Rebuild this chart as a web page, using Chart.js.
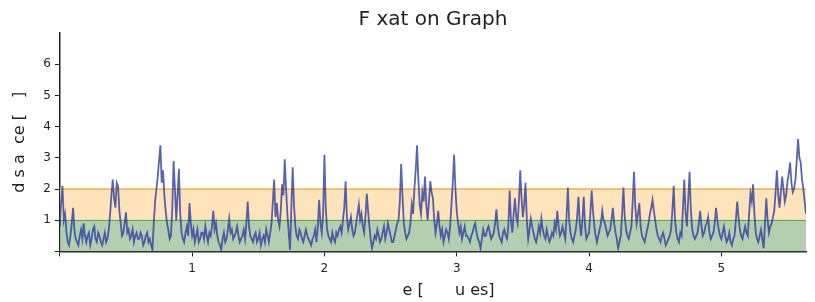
<!DOCTYPE html>
<html>
<head>
<meta charset="utf-8">
<script src="https://cdn.jsdelivr.net/npm/chart.js@4.4.1/dist/chart.umd.min.js"></script>
<style>
  html, body { margin: 0; padding: 0; background: #fff; }
  #wrap { width: 815px; height: 302px; }
</style>
</head>
<body>
<div id="wrap"><canvas id="fixChart"></canvas></div>
<script>
// sample interval of the series (x axis units)
const sampleStep = 0.01;
const xMax = 5.64;

// distance values, one per sample
const distance = [
  0.8,1.6, 2.1,1.0, 1.2,0.6, 0.3,0.2, 0.5,0.9, 1.4,0.7, 0.4,0.3, 0.2,0.5, 0.7,0.4, 0.9,0.5,
  0.3,0.5, 0.6,0.2, 0.4,0.7, 0.8,0.4, 0.3,0.6, 0.5,0.3, 0.2,0.4, 0.6,0.3, 0.4,0.7, 1.2,1.8,
  2.3,1.7, 1.4,2.2, 2.1,1.3, 0.9,0.5, 0.6,0.9, 1.25,0.6, 0.7,0.4, 0.5,0.7, 0.3,0.5, 0.6,0.4,
  0.4,0.6, 0.5,0.2, 0.3,0.5, 0.6,0.3, 0.4,0.2, 0.05,0.9, 1.6,2.0, 2.4,2.9, 3.4,2.2, 2.6,1.8,
  1.3,0.9, 0.7,0.4, 0.5,1.4, 2.9,2.0, 1.0,1.8, 2.65,1.2, 0.6,0.4, 0.3,0.6, 0.8,0.5, 1.55,0.9,
  0.5,0.7, 0.3,0.5, 0.7,0.3, 0.4,0.6, 0.6,0.4, 0.8,0.5, 0.3,0.6, 0.5,0.8, 1.3,0.7, 0.9,0.5,
  0.3,0.2, 0.05,0.4, 0.6,0.3, 0.4,0.7, 1.05,0.6, 0.7,0.4, 0.5,0.6, 0.8,0.5, 0.3,0.4, 0.5,0.7,
  0.4,0.9, 1.6,0.8, 0.5,0.4, 0.3,0.5, 0.6,0.3, 0.4,0.6, 0.2,0.4, 0.5,0.3, 0.7,0.5, 0.3,0.6,
  0.9,1.6, 2.3,1.1, 1.55,1.0, 0.8,1.3, 2.15,1.8, 2.95,2.0, 1.2,0.6, 0.05,1.4, 2.7,1.5, 0.8,0.5,
  0.4,0.7, 0.6,0.4, 0.3,0.5, 0.7,0.5, 0.4,0.3, 0.2,0.4, 0.5,0.7, 0.3,0.8, 1.65,0.9, 0.6,1.2,
  3.1,1.4, 0.7,0.5, 0.4,0.3, 0.6,0.4, 0.3,0.6, 0.5,0.7, 0.8,0.6, 1.0,1.4, 2.25,1.1, 0.7,0.9,
  1.1,0.7, 0.5,0.6, 0.9,1.2, 1.5,1.0, 1.2,0.8, 0.6,1.1, 1.85,1.3, 0.8,0.4, 0.1,0.3, 0.5,0.4,
  0.7,0.5, 0.3,0.4, 0.6,0.8, 0.4,0.6, 0.9,0.7, 0.5,0.3, 0.3,0.5, 0.7,0.9, 1.0,1.6, 2.8,1.8,
  0.9,0.6, 0.4,0.5, 0.6,0.9, 1.5,1.2, 2.0,2.6, 3.4,2.3, 1.5,1.2, 1.9,1.6, 2.4,1.5, 1.0,1.6,
  2.25,1.9, 1.7,1.0, 0.6,0.9, 1.3,0.8, 0.5,0.7, 0.3,0.5, 0.7,0.6, 0.4,0.8, 1.5,2.2, 3.1,2.0,
  1.3,0.9, 0.6,0.8, 0.4,0.6, 0.8,0.5, 0.5,0.4, 0.3,0.5, 0.6,0.8, 0.9,0.6, 0.4,0.3, 0.1,0.4,
  0.7,0.5, 0.5,0.7, 0.8,0.6, 0.4,0.5, 0.6,0.9, 1.35,0.8, 0.5,0.4, 0.3,0.6, 0.7,0.5, 0.4,0.8,
  1.95,1.0, 0.6,1.2, 1.7,1.1, 0.9,1.6, 2.6,1.7, 1.1,1.5, 2.2,1.0, 0.4,0.7, 1.05,0.8, 0.6,0.4,
  0.3,0.5, 0.8,0.6, 1.05,0.7, 0.5,0.4, 0.7,0.5, 0.3,0.4, 0.6,0.5, 0.9,0.7, 1.3,0.8, 0.5,0.6,
  0.8,0.6, 0.4,1.1, 2.05,1.0, 0.6,0.4, 0.3,0.5, 0.7,1.1, 1.75,0.9, 0.5,1.0, 1.75,0.8, 0.4,0.5,
  0.6,1.2, 1.95,1.3, 0.8,0.5, 0.3,0.5, 0.7,0.9, 1.3,1.0, 0.9,0.7, 0.5,0.6, 0.7,1.0, 1.4,0.9,
  0.6,0.4, 0.1,0.3, 0.5,1.2, 2.05,1.1, 0.7,0.5, 0.4,0.6, 0.8,1.6, 2.55,1.4, 0.9,1.2, 1.55,0.8,
  0.5,0.4, 0.3,0.5, 0.7,0.9, 1.2,1.4, 1.65,1.3, 1.0,0.7, 0.5,0.4, 0.3,0.5, 0.6,0.4, 0.2,0.3,
  0.4,0.5, 0.7,1.3, 2.1,1.0, 0.6,0.4, 0.3,0.6, 0.5,1.4, 2.3,1.2, 0.8,1.7, 2.55,1.3, 0.7,0.5,
  0.4,0.5, 0.6,0.9, 1.3,0.8, 0.5,0.6, 0.8,0.9, 1.1,0.6, 0.4,0.5, 0.6,0.9, 1.4,1.0, 0.7,0.5,
  0.4,0.6, 0.8,0.5, 0.3,0.4, 0.6,0.3, 0.2,0.4, 0.5,1.0, 1.6,1.1, 0.7,0.5, 0.4,0.6, 0.8,0.6,
  0.5,1.2, 1.85,1.6, 2.15,1.2, 0.6,0.4, 0.3,0.5, 0.7,0.4, 0.1,0.9, 1.7,1.0, 0.6,0.8, 0.9,1.1,
  1.3,1.9, 2.6,1.8, 1.4,1.9, 2.4,2.0, 1.6,1.8, 2.25,2.5, 2.85,2.2, 1.9,2.0, 2.3,2.9, 3.6,3.0,
  2.85,2.3, 2.0,1.6, 1.2
];

// threshold bands
const lowBand = 1;
const highBand = 2;

const yTicks = [0, 1, 2, 3, 4, 5, 6];
const xTicks = [0, 1, 2, 3, 4, 5];

// labels as they appear (gaps where glyphs are missing)
const chartTitle = "F xat on Graph";
const xTitle = "\u2007 \u2003e [\u2003 \u2007u es]";
const yTitle = "d s a\u2007ce [\u2003]";

const points = distance.map(function (v, i) {
  return { x: +(i * sampleStep).toFixed(2), y: v };
});

// title centred over the plot area rather than the whole canvas
const plotTitle = {
  id: "plotTitle",
  afterDraw: function (chart) {
    const ctx = chart.ctx;
    const area = chart.chartArea;
    ctx.save();
    ctx.font = "20px 'DejaVu Sans'";
    ctx.fillStyle = "#222";
    ctx.textAlign = "center";
    ctx.textBaseline = "middle";
    ctx.fillText(chartTitle, (area.left + area.right) / 2, 20);
    ctx.restore();
  }
};

new Chart(document.getElementById("fixChart"), {
  type: "line",
  data: {
    datasets: [
      {
        label: "low",
        data: [{ x: 0, y: lowBand }, { x: xMax, y: lowBand }],
        borderColor: "#2e9a3c",
        borderWidth: 1.5,
        backgroundColor: "rgba(160,195,155,0.8)",
        fill: "origin",
        pointRadius: 0,
        order: 3
      },
      {
        label: "high",
        data: [{ x: 0, y: highBand }, { x: xMax, y: highBand }],
        borderColor: "#f6b04e",
        borderWidth: 1.5,
        backgroundColor: "rgba(254,222,175,0.85)",
        fill: "-1",
        pointRadius: 0,
        order: 2
      },
      {
        label: "distance",
        data: points,
        borderColor: "rgba(45,62,160,0.8)",
        borderWidth: 1.8,
        pointRadius: 0,
        fill: false,
        tension: 0,
        order: 1
      }
    ]
  },
  plugins: [plotTitle],
  options: {
    responsive: true,
    maintainAspectRatio: false,
    animation: false,
    layout: { padding: { left: 10, right: 9, top: 33, bottom: 2 } },
    plugins: {
      legend: { display: false },
      tooltip: { enabled: false },
      title: { display: false }
    },
    scales: {
      x: {
        type: "linear",
        min: 0,
        max: xMax,
        afterBuildTicks: function (axis) {
          axis.ticks = xTicks.map(function (v) { return { value: v }; });
        },
        ticks: {
          color: "#222",
          font: { family: "DejaVu Sans", size: 12 },
          padding: 5,
          callback: function (v) { return v === 0 ? "" : v; }
        },
        grid: { display: true, drawOnChartArea: false, drawTicks: true, tickLength: 5, tickColor: "#222" },
        border: { display: true, color: "#222", width: 1.5 },
        title: {
          display: true,
          text: xTitle,
          color: "#222",
          font: { family: "DejaVu Sans", size: 16 },
          padding: { top: 0, bottom: 0 }
        }
      },
      y: {
        min: 0,
        max: 7,
        afterBuildTicks: function (axis) {
          axis.ticks = yTicks.map(function (v) { return { value: v }; });
        },
        ticks: {
          color: "#222",
          font: { family: "DejaVu Sans", size: 12 },
          padding: 4,
          callback: function (v) { return v === 0 ? "" : v; }
        },
        grid: { display: true, drawOnChartArea: false, drawTicks: true, tickLength: 5, tickColor: "#222" },
        border: { display: true, color: "#222", width: 1.5 },
        title: {
          display: true,
          text: yTitle,
          color: "#222",
          font: { family: "DejaVu Sans", size: 16 },
          padding: { top: 0, bottom: 10 }
        }
      }
    }
  }
});
</script>
</body>
</html>
